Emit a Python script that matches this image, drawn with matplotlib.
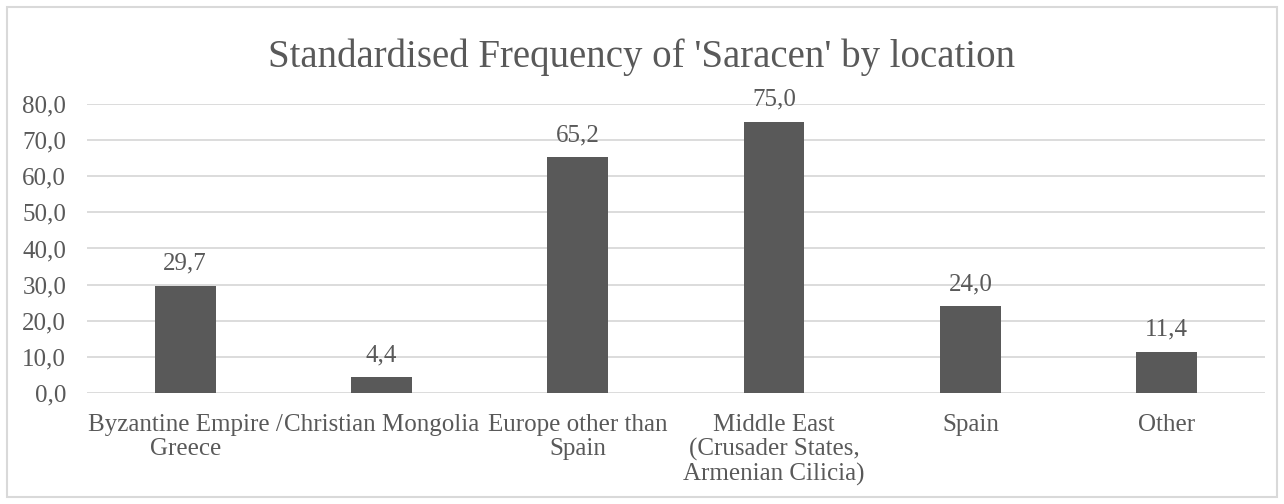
import matplotlib.pyplot as plt
from matplotlib.patches import Rectangle

# Standardised frequency per location
locations = [
    'Byzantine Empire /\nGreece',
    'Christian Mongolia',
    'Europe other than\nSpain',
    'Middle East\n(Crusader States,\nArmenian Cilicia)',
    'Spain',
    'Other',
]
frequency = [29.7, 4.4, 65.2, 75.0, 24.0, 11.4]
y_ticks = [0, 10, 20, 30, 40, 50, 60, 70, 80]

grey = '#595959'
light = '#d9d9d9'
fs = 18

plt.rcParams['font.family'] = ['Liberation Serif', 'DejaVu Serif']

fig = plt.figure(figsize=(12.84, 5.04), dpi=100)
ax = fig.add_axes([0.0678, 0.2202, 0.9172, 0.5735])

x = range(len(locations))
bars = ax.bar(x, frequency, width=0.31, color=grey, zorder=3)

for rect, val in zip(bars, frequency):
    ax.annotate(f'{val:.1f}'.replace('.', ','),
                (rect.get_x() + rect.get_width() / 2, rect.get_height()),
                xytext=(0, 8), textcoords='offset points',
                ha='center', va='bottom', fontsize=fs, color=grey)

ax.set_xlim(-0.5, len(locations) - 0.5)
ax.set_ylim(0, 80)
ax.set_yticks(y_ticks)
ax.set_yticklabels([f'{v:.1f}'.replace('.', ',') for v in y_ticks])
ax.set_xticks(list(x))
ax.set_xticklabels(locations, linespacing=1.12)
ax.tick_params(axis='both', length=0, labelsize=fs, colors=grey)
ax.tick_params(axis='y', pad=15)
ax.tick_params(axis='x', pad=15)
ax.grid(axis='y', color=light, linewidth=1.3, zorder=0)
for s in ax.spines.values():
    s.set_visible(False)

fig.text(0.5, 0.886, "Standardised Frequency of 'Saracen' by location",
         ha='center', va='center', fontsize=28, color=grey)

# outer chart border
fig.patches.append(Rectangle((7 / 1284, 7 / 504), 1270 / 1284, 490 / 504,
                             transform=fig.transFigure, fill=False,
                             edgecolor=light, linewidth=1.5))

fig.savefig('out.png', dpi=100)
